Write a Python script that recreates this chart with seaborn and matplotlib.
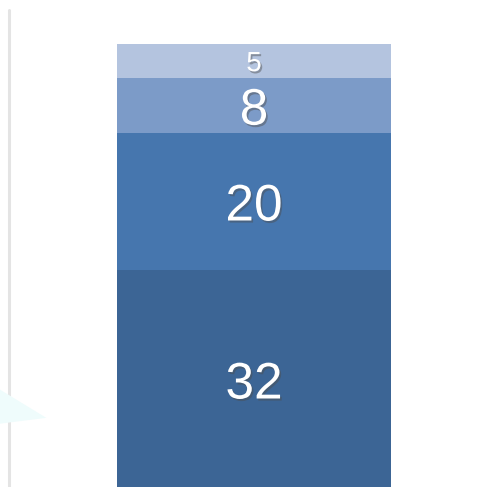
import pandas as pd
import seaborn as sns
import matplotlib.pyplot as plt
import matplotlib.patheffects as pe
from matplotlib.patches import Polygon

# stacked segments, bottom to top
segments = ["A", "B", "C", "D"]
values = [32, 20, 8, 5]
colors = ["#3c6595", "#4676ae", "#7c9bc8", "#b4c4df"]
label_sizes = [37, 37, 37, 20]
category = ["Total"]

sns.set_theme(style="white")
plt.rcParams['font.family'] = ['Liberation Sans', 'DejaVu Sans']

fig = plt.figure(figsize=(4.88, 4.87), dpi=100)
ax = fig.add_axes([0, 0, 1, 1])

bottom = 0
for seg, val, col, fs in zip(segments, values, colors, label_sizes):
    df = pd.DataFrame({"cat": category, "val": [val]})
    sns.barplot(data=df, x="cat", y="val", color=col, bottom=bottom,
                width=0.8, saturation=1, linewidth=0, ax=ax)
    ax.text(0, bottom + val / 2, str(val), ha="center", va="center_baseline",
            color="white", fontsize=fs,
            path_effects=[pe.SimplePatchShadow(offset=(1.2, -1.5), alpha=0.45),
                          pe.Normal()])
    bottom += val

ax.set_xlim(-0.7416, 0.683)
ax.set_ylim(0.3, 71.43)

# faint left rule
ax.axvline(-0.714, ymin=0, ymax=0.979, color="#e4e4e4", lw=2.2)

# faint cyan wedge at the lower left edge
fig.patches.append(Polygon([[0, 0.2], [0.0, 0.13], [0.095, 0.142]],
                           closed=True, transform=fig.transFigure,
                           facecolor="#effcfc", edgecolor="none", zorder=0))

ax.axis("off")
fig.savefig("out.png", dpi=100, facecolor="white")
